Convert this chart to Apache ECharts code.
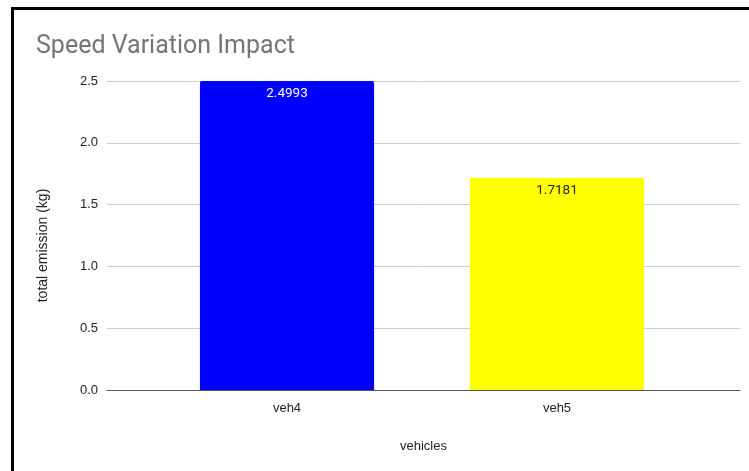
<!DOCTYPE html>
<html>
<head>
<meta charset="utf-8">
<script src="https://cdn.jsdelivr.net/npm/echarts@6/dist/echarts.min.js"></script>
<style>
  html, body { margin: 0; padding: 0; background: #fff; }
  #chart { width: 749px; height: 471px; }
</style>
</head>
<body>
<div id="chart"></div>
<script>
// Chart data
const categories = ['veh4', 'veh5'];
const emissions = [2.4993, 1.7181];
const barColors = ['#0000ff', '#ffff00'];
const labelColors = ['#ffffff', '#222222'];
const yTicks = [0, 0.5, 1.0, 1.5, 2.0, 2.5];

const chart = echarts.init(document.getElementById('chart'));
const titleFont = 'Roboto, Arial, sans-serif';
const axisFont = '"Liberation Sans", Arial, sans-serif';

chart.setOption({
  backgroundColor: '#ffffff',
  animation: false,
  title: {
    text: 'Speed Variation Impact',
    left: 31,
    top: 29,
    textStyle: { color: '#757575', fontSize: 25, fontWeight: 'normal', fontFamily: titleFont }
  },
  graphic: [
    { type: 'line', shape: { x1: 12.5, y1: 7, x2: 12.5, y2: 471 }, style: { stroke: '#000', lineWidth: 3 } },
    { type: 'line', shape: { x1: 11, y1: 8.5, x2: 749, y2: 8.5 }, style: { stroke: '#000', lineWidth: 3 } }
  ],
  grid: [
    { left: 107, right: 9, top: 81, bottom: 81 },
    { left: 152, right: 57, top: 81, bottom: 81 }
  ],
  xAxis: [
    {
      gridIndex: 0, type: 'category', data: categories,
      axisLine: { show: true, lineStyle: { color: '#555', width: 1 } },
      axisTick: { show: false }, axisLabel: { show: false },
      name: 'vehicles', nameLocation: 'middle', nameGap: 50,
      nameTextStyle: { color: '#222', fontSize: 13, fontFamily: axisFont }
    },
    {
      gridIndex: 1, type: 'category', data: categories,
      axisLine: { show: false }, axisTick: { show: false },
      axisLabel: { color: '#222', fontSize: 13, fontFamily: axisFont, margin: 12 }
    }
  ],
  yAxis: [
    {
      gridIndex: 0, type: 'value', min: yTicks[0], max: yTicks[yTicks.length - 1], interval: 0.5,
      axisLine: { show: false }, axisTick: { show: false },
      splitLine: { lineStyle: { color: '#cccccc', width: 1 } },
      axisLabel: { color: '#222', fontSize: 13, fontFamily: axisFont, margin: 9, formatter: v => v.toFixed(1) },
      name: 'total emission (kg)', nameLocation: 'middle', nameGap: 57, nameRotate: 90,
      nameTextStyle: { color: '#222', fontSize: 14, fontFamily: axisFont, padding: [0, 20, 0, 0] }
    },
    {
      gridIndex: 1, type: 'value', min: yTicks[0], max: yTicks[yTicks.length - 1], interval: 0.5,
      show: false
    }
  ],
  series: [{
    type: 'bar',
    xAxisIndex: 1, yAxisIndex: 1,
    barWidth: '64.5%',
    data: emissions.map((v, i) => ({
      value: v,
      itemStyle: { color: barColors[i], borderRadius: [2, 2, 0, 0] },
      label: { color: labelColors[i] }
    })),
    label: {
      show: true, position: 'insideTop', distance: 6,
      fontSize: 13.5, fontFamily: titleFont,
      formatter: p => p.value.toFixed(4)
    }
  }]
});
</script>
</body>
</html>
